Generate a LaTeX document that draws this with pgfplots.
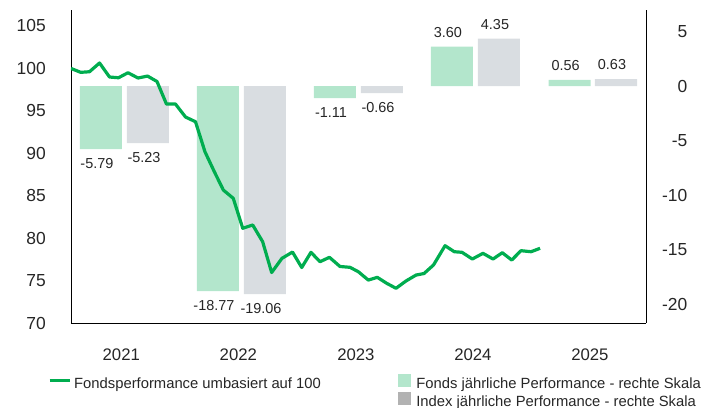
\documentclass[border=0pt]{standalone}
\usepackage{fontspec}
\setmainfont{Liberation Sans}
\usepackage{pgfplots}
\pgfplotsset{compat=1.18}
\definecolor{lgreen}{RGB}{0,173,79}
\definecolor{bargreen}{RGB}{179,230,204}
\definecolor{bargrey}{RGB}{217,221,225}
\definecolor{leggrey}{RGB}{178,178,178}
\pgfplotsset{
  legline/.style={legend image code/.code={\draw[lgreen,line width=3.2bp] (0bp,5bp) -- (20bp,5bp);}},
  leggreen/.style={legend image code/.code={\fill[bargreen] (0bp,-1bp) rectangle (12bp,11bp); \path (15bp,5bp);}},
  leggreyb/.style={legend image code/.code={\fill[leggrey] (0bp,-1bp) rectangle (12bp,11bp); \path (15bp,5bp);}},
}
\pgfplotstableread{
x y
2021.000 100.00
2021.083 99.54
2021.158 99.61
2021.244 100.64
2021.329 98.99
2021.406 98.90
2021.487 99.49
2021.573 98.87
2021.654 99.10
2021.735 98.46
2021.816 95.80
2021.893 95.80
2021.979 94.27
2022.064 93.72
2022.145 90.18
2022.225 87.83
2022.302 85.67
2022.387 84.69
2022.468 81.16
2022.553 81.55
2022.638 79.58
2022.715 75.95
2022.803 77.62
2022.893 78.36
2022.972 76.54
2023.051 78.33
2023.128 77.22
2023.209 77.74
2023.299 76.66
2023.385 76.56
2023.456 76.04
2023.541 75.06
2023.618 75.38
2023.698 74.68
2023.778 74.09
2023.863 74.95
2023.949 75.65
2024.017 75.83
2024.098 76.83
2024.197 79.11
2024.276 78.40
2024.342 78.33
2024.430 77.54
2024.521 78.21
2024.607 77.54
2024.686 78.28
2024.767 77.42
2024.846 78.52
2024.932 78.40
2025.009 78.80
}\linedata
\pgfplotstableread{
x y lab
2021.256 -5.79 -5.79
2022.256 -18.77 -18.77
2023.256 -1.11 -1.11
}\fondsneg
\pgfplotstableread{
x y lab
2024.256 3.60 3.60
2025.262 0.56 0.56
}\fondspos
\pgfplotstableread{
x y lab
2021.658 -5.23 -5.23
2022.658 -19.06 -19.06
2023.658 -0.66 -0.66
}\indexneg
\pgfplotstableread{
x y lab
2024.658 4.35 4.35
2025.658 0.63 0.63
}\indexpos
\begin{document}
\begin{tikzpicture}
% bars, right scale
\begin{axis}[
  scale only axis, width=575bp, height=313bp,
  xmin=2021, xmax=2025.9145, ymin=-21.70, ymax=6.96,
  axis x line=none, axis y line*=right,
  axis line style={line width=0.8bp, black},
  major tick length=0pt,
  ytick={-20,-15,-10,-5,0,5},
  yticklabels={-20,-15,-10,-5,0,5},
  yticklabel style={anchor=east, xshift=44.8bp, font=\fontsize{17.5}{20}\selectfont, text=black!85},
  ybar, bar width=0.359,
  nodes near coords, point meta=explicit symbolic,
  nodes near coords style={font=\fontsize{14.5}{16}\selectfont, inner ysep=9bp, xshift=-4bp, text=black!85},
]
\addplot[fill=bargreen, draw=none, bar shift=0pt, nodes near coords style={anchor=north}] table[x=x, y=y, meta=lab] {\fondsneg};
\addplot[fill=bargreen, draw=none, bar shift=0pt, nodes near coords style={anchor=south}] table[x=x, y=y, meta=lab] {\fondspos};
\addplot[fill=bargrey, draw=none, bar shift=0pt, nodes near coords style={anchor=north}] table[x=x, y=y, meta=lab] {\indexneg};
\addplot[fill=bargrey, draw=none, bar shift=0pt, nodes near coords style={anchor=south}] table[x=x, y=y, meta=lab] {\indexpos};
\end{axis}
% line, left scale
\begin{axis}[
  scale only axis, width=575bp, height=313bp,
  xmin=2021, xmax=2025.9145, ymin=70, ymax=106.885,
  axis x line*=bottom, axis y line*=left,
  axis line style={line width=0.8bp, black},
  major tick length=0pt,
  xtick={2021.43,2022.43,2023.435,2024.435,2025.435},
  xticklabels={2021,2022,2023,2024,2025},
  xticklabel style={yshift=-22bp, font=\fontsize{16.8}{20}\selectfont, text=black!85},
  ytick={70,75,80,85,90,95,100,105},
  yticklabels={70,75,80,85,90,95,100,105},
  yticklabel style={xshift=-21.7bp, font=\fontsize{17.5}{20}\selectfont, text=black!85},
  legend columns=2,
  legend cell align=left,
  legend style={at={(0,0)}, anchor=north west, xshift=-23bp, yshift=-51bp,
    draw=none, fill=none, inner sep=0pt, outer sep=0pt,
    font=\fontsize{14.85}{17}\selectfont, text=black!85, row sep=0bp,
    /tikz/column 2/.style={column sep=74bp},
    nodes={inner ysep=0pt, inner xsep=3bp, text height=10.5bp, text depth=3.5bp}},
]
\addplot[lgreen, line width=3.2bp, line join=round, forget plot] table[x=x, y=y] {\linedata};
\addlegendimage{legline}
\addlegendentry{Fondsperformance umbasiert auf 100}
\addlegendimage{leggreen}
\addlegendentry{Fonds jährliche Performance - rechte Skala}
\addlegendimage{empty legend}
\addlegendentry{}
\addlegendimage{leggreyb}
\addlegendentry{Index jährliche Performance - rechte Skala}
\end{axis}
\pgfresetboundingbox
\path[use as bounding box] (-71bp,-85bp) rectangle (644bp,323bp);
\end{tikzpicture}
\end{document}
